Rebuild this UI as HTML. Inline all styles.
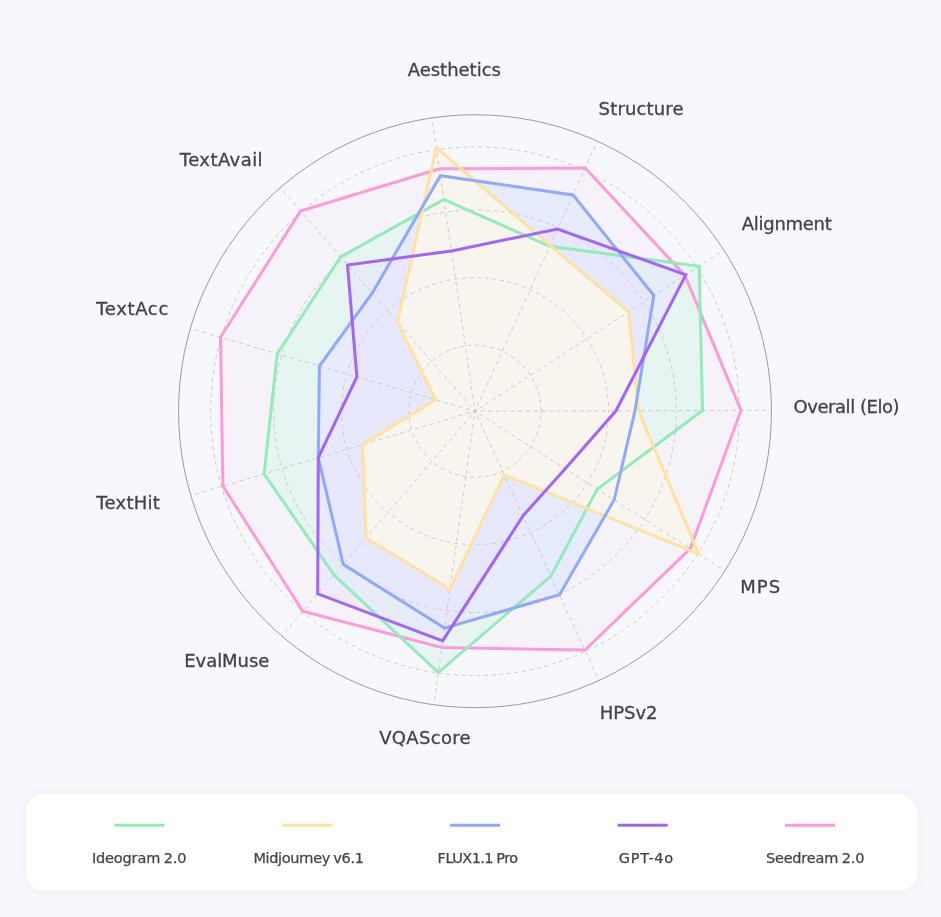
<!DOCTYPE html>
<html lang="en">
<head>
<meta charset="utf-8">
<title>Model comparison radar</title>
<style>
html,body{margin:0;padding:0;background:#f7f8fc;}
body{width:941px;height:917px;overflow:hidden;position:relative;font-family:"Liberation Sans",sans-serif;}
svg{display:block;position:absolute;left:0;top:0;}
.lbl{font-family:"DejaVu Sans","Liberation Sans",sans-serif;font-size:18px;fill:#40434d;stroke:#40434d;stroke-width:0.3px;}
.leg{font-family:"DejaVu Sans","Liberation Sans",sans-serif;font-size:14.5px;fill:#41444e;stroke:#41444e;stroke-width:0.25px;word-spacing:-0.8px;}
</style>
</head>
<body>
<svg width="941" height="917" viewBox="0 0 941 917">
<rect x="0" y="0" width="941" height="917" fill="#f7f8fc"/>
<!-- filled areas -->
<g stroke="none">
<polygon points="741.0,410.4 684.9,275.4 585.2,168.0 439.4,168.8 300.5,211.1 220.5,337.3 222.9,486.0 302.7,611.2 441.8,647.4 585.0,650.1 690.3,548.7" fill="#f5f2fa" fill-opacity="1"/>
<polygon points="702.5,410.5 699.2,266.2 549.7,246.3 443.9,199.5 340.6,257.0 277.2,353.7 264.1,473.8 334.0,574.9 438.2,672.6 550.9,576.1 597.2,489.2" fill="#e6f5f2" fill-opacity="1"/>
<polygon points="635.0,410.7 653.8,295.5 573.0,194.9 440.4,175.7 372.2,293.2 319.4,366.0 318.3,457.7 343.2,564.3 444.5,628.1 559.5,594.7 614.1,500.0" fill="#e6ebfd" fill-opacity="1"/>
<polygon points="616.0,410.8 685.8,274.9 557.5,229.0 451.5,250.9 347.5,265.0 356.9,376.9 318.3,457.7 317.7,593.8 442.7,640.9 523.1,515.7 565.2,468.8" fill="#e8e5fd" fill-opacity="0.55"/>
<polygon points="638.5,410.7 628.7,311.8 550.1,245.4 436.3,147.5 397.5,322.3 435.6,399.8 362.4,444.6 366.0,537.7 449.9,589.4 504.3,474.8 698.8,554.1" fill="#f8f5ef" fill-opacity="1"/>
</g>
<!-- grid -->
<g fill="none" stroke="#cbcbce" stroke-width="1" stroke-dasharray="4 3.63" stroke-dashoffset="2.33">
<circle cx="475.0" cy="411.2" r="66"/>
<circle cx="475.0" cy="411.2" r="133.5"/>
<circle cx="475.0" cy="411.2" r="201.3"/>
<circle cx="475.0" cy="411.2" r="264.4"/>
<line x1="475.0" y1="411.2" x2="771.4" y2="410.3"/>
<line x1="475.0" y1="411.2" x2="723.9" y2="250.2"/>
<line x1="475.0" y1="411.2" x2="597.3" y2="141.2"/>
<line x1="475.0" y1="411.2" x2="431.9" y2="117.9"/>
<line x1="475.0" y1="411.2" x2="280.2" y2="187.7"/>
<line x1="475.0" y1="411.2" x2="190.3" y2="328.5"/>
<line x1="475.0" y1="411.2" x2="190.8" y2="495.6"/>
<line x1="475.0" y1="411.2" x2="281.5" y2="635.8"/>
<line x1="475.0" y1="411.2" x2="433.7" y2="704.8"/>
<line x1="475.0" y1="411.2" x2="598.9" y2="680.5"/>
<line x1="475.0" y1="411.2" x2="724.9" y2="570.7"/>
</g>
<circle cx="475.0" cy="411.2" r="296.45" fill="none" stroke="#9c9ca0" stroke-width="1"/>
<circle cx="475.0" cy="411.2" r="1.9" fill="#cbcbce"/>
<!-- series outlines -->
<g fill="none" stroke-width="3" stroke-linejoin="miter" stroke-miterlimit="10">
<polygon points="741.0,410.4 684.9,275.4 585.2,168.0 439.4,168.8 300.5,211.1 220.5,337.3 222.9,486.0 302.7,611.2 441.8,647.4 585.0,650.1 690.3,548.7" stroke="#ff99da"/>
<polygon points="702.5,410.5 699.2,266.2 549.7,246.3 443.9,199.5 340.6,257.0 277.2,353.7 264.1,473.8 334.0,574.9 438.2,672.6 550.9,576.1 597.2,489.2" stroke="#92ecb8"/>
<polygon points="638.5,410.7 628.7,311.8 550.1,245.4 436.3,147.5 397.5,322.3 435.6,399.8 362.4,444.6 366.0,537.7 449.9,589.4 504.3,474.8 698.8,554.1" stroke="#ffe29e"/>
<polygon points="635.0,410.7 653.8,295.5 573.0,194.9 440.4,175.7 372.2,293.2 319.4,366.0 318.3,457.7 343.2,564.3 444.5,628.1 559.5,594.7 614.1,500.0" stroke="#8fa9fe"/>
<polygon points="616.0,410.8 685.8,274.9 557.5,229.0 451.5,250.9 347.5,265.0 356.9,376.9 318.3,457.7 317.7,593.8 442.7,640.9 523.1,515.7 565.2,468.8" stroke="#a364fc"/>
</g>
<!-- axis labels -->
<g class="lbl">
<text x="407.7" y="75.5" textLength="93.2" lengthAdjust="spacing">Aesthetics</text>
<text x="598.6" y="115.0" textLength="85.0" lengthAdjust="spacing">Structure</text>
<text x="741.8" y="229.8" textLength="90.0" lengthAdjust="spacing">Alignment</text>
<text x="793.6" y="413.3" textLength="106.0" lengthAdjust="spacing">Overall (Elo)</text>
<text x="740.3" y="593.2" textLength="39.8" lengthAdjust="spacing">MPS</text>
<text x="599.7" y="719.2" textLength="57.8" lengthAdjust="spacing">HPSv2</text>
<text x="379.2" y="743.6" textLength="91.4" lengthAdjust="spacing">VQAScore</text>
<text x="184.2" y="666.7" textLength="85.2" lengthAdjust="spacing">EvalMuse</text>
<text x="96.3" y="508.9" textLength="63.6" lengthAdjust="spacing">TextHit</text>
<text x="96.3" y="315.0" textLength="72.0" lengthAdjust="spacing">TextAcc</text>
<text x="179.8" y="165.5" textLength="82.8" lengthAdjust="spacing">TextAvail</text>
</g>
<!-- legend -->
<defs><filter id="sh" x="-5%" y="-30%" width="110%" height="160%"><feGaussianBlur stdDeviation="5"/></filter></defs>
<rect x="25.8" y="794.2" width="891.7" height="96.7" rx="19" ry="19" fill="#5a64a0" fill-opacity="0.07" filter="url(#sh)"/>
<rect x="25.8" y="794.2" width="891.7" height="96.7" rx="19" ry="19" fill="#ffffff"/>
<line x1="114.4" y1="825.15" x2="164.6" y2="825.15" stroke="#92ecb8" stroke-width="3"/>
<text class="leg" x="91.9" y="862.7" textLength="94.6" lengthAdjust="spacing">Ideogram 2.0</text>
<line x1="282.4" y1="825.15" x2="332.6" y2="825.15" stroke="#ffe29e" stroke-width="3"/>
<text class="leg" x="253.4" y="862.7" textLength="110.5" lengthAdjust="spacing">Midjourney v6.1</text>
<line x1="449.9" y1="825.15" x2="500.1" y2="825.15" stroke="#8fa9fe" stroke-width="3"/>
<text class="leg" x="437.6" y="862.7" textLength="80.6" lengthAdjust="spacing">FLUX1.1 Pro</text>
<line x1="617.6" y1="825.15" x2="667.8000000000001" y2="825.15" stroke="#a364fc" stroke-width="3"/>
<text class="leg" x="618.7" y="862.7" textLength="54.5" lengthAdjust="spacing">GPT-4o</text>
<line x1="785.0" y1="825.15" x2="835.2" y2="825.15" stroke="#ff99da" stroke-width="3"/>
<text class="leg" x="765.9" y="862.7" textLength="98.5" lengthAdjust="spacing">Seedream 2.0</text>
</svg>
</body>
</html>
